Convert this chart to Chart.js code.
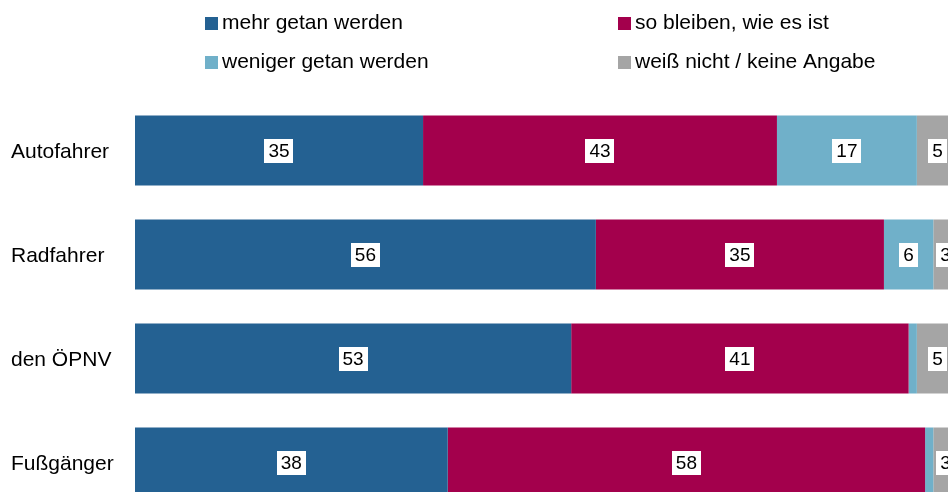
<!DOCTYPE html>
<html>
<head>
<meta charset="utf-8">
<script src="https://cdn.jsdelivr.net/npm/chart.js@4/dist/chart.umd.min.js"></script>
<style>
  html, body { margin: 0; padding: 0; background: #fff; }
  #frame { position: relative; width: 948px; height: 492px; overflow: hidden; background: #fff; }
  #c { position: absolute; left: 0; top: 0; }
</style>
</head>
<body>
<div id="frame"><canvas id="c" width="970" height="530"></canvas></div>
<script>
const categories = ['Autofahrer', 'Radfahrer', 'den ÖPNV', 'Fußgänger'];
const seriesNames = ['mehr getan werden', 'so bleiben, wie es ist', 'weniger getan werden', 'weiß nicht / keine Angabe'];
const mehrGetan = [35, 56, 53, 38];
const soBleiben = [43, 35, 41, 58];
const wenigerGetan = [17, 6, 1, 1];
const weissNicht = [5, 3, 5, 3];
const colors = ['#246192', '#A3004C', '#70B0C9', '#A5A5A5'];

const FONT = '"Liberation Sans", Arial, sans-serif';

const valueLabels = {
  id: 'valueLabels',
  afterDatasetsDraw(chart) {
    const ctx = chart.ctx;
    ctx.save();
    ctx.font = '19px ' + FONT;
    ctx.textAlign = 'center';
    ctx.textBaseline = 'middle';
    chart.data.datasets.forEach((ds, di) => {
      const meta = chart.getDatasetMeta(di);
      meta.data.forEach((bar, i) => {
        const v = ds.data[i];
        if (v < 2) return;
        const cx = (bar.x + bar.base) / 2;
        const cy = bar.y;
        const t = String(v);
        const w = ctx.measureText(t).width + 8;
        const h = 24;
        ctx.fillStyle = '#ffffff';
        ctx.fillRect(Math.round(cx - w / 2), Math.round(cy - h / 2), Math.round(w), h);
        ctx.fillStyle = '#000000';
        ctx.fillText(t, cx, cy + 1);
      });
    });
    ctx.restore();
  }
};

const gridLegend = {
  id: 'gridLegend',
  afterDraw(chart) {
    const ctx = chart.ctx;
    ctx.save();
    ctx.font = '21px ' + FONT;
    ctx.textBaseline = 'middle';
    ctx.textAlign = 'left';
    const colX = [205, 618];
    const rowY = [23, 62];
    chart.data.datasets.forEach((ds, i) => {
      const x = colX[i % 2];
      const y = rowY[Math.floor(i / 2)];
      ctx.fillStyle = ds.backgroundColor;
      ctx.fillRect(x, y - 6, 13, 13);
      ctx.fillStyle = '#000000';
      ctx.fillText(ds.label, x + 17, y);
    });
    ctx.restore();
  }
};

new Chart(document.getElementById('c'), {
  type: 'bar',
  data: {
    labels: categories,
    datasets: [
      { label: seriesNames[0], data: mehrGetan, backgroundColor: colors[0] },
      { label: seriesNames[1], data: soBleiben, backgroundColor: colors[1] },
      { label: seriesNames[2], data: wenigerGetan, backgroundColor: colors[2] },
      { label: seriesNames[3], data: weissNicht, backgroundColor: colors[3] }
    ]
  },
  options: {
    indexAxis: 'y',
    responsive: false,
    animation: false,
    layout: { padding: { left: 11, right: 12, top: 98.5, bottom: 15.5 } },
    datasets: { bar: { categoryPercentage: 1, barPercentage: 0.673, borderWidth: 0 } },
    scales: {
      x: { stacked: true, min: 0, max: 100, display: false },
      y: {
        stacked: true,
        grid: { display: false },
        border: { display: false },
        ticks: {
          crossAlign: 'far',
          color: '#000000',
          font: { family: FONT, size: 21 },
          padding: 0,
          labelOffset: 2
        },
        afterFit(scale) { scale.width = 124; }
      }
    },
    plugins: {
      legend: { display: false },
      tooltip: { enabled: false }
    }
  },
  plugins: [valueLabels, gridLegend]
});
</script>
</body>
</html>
